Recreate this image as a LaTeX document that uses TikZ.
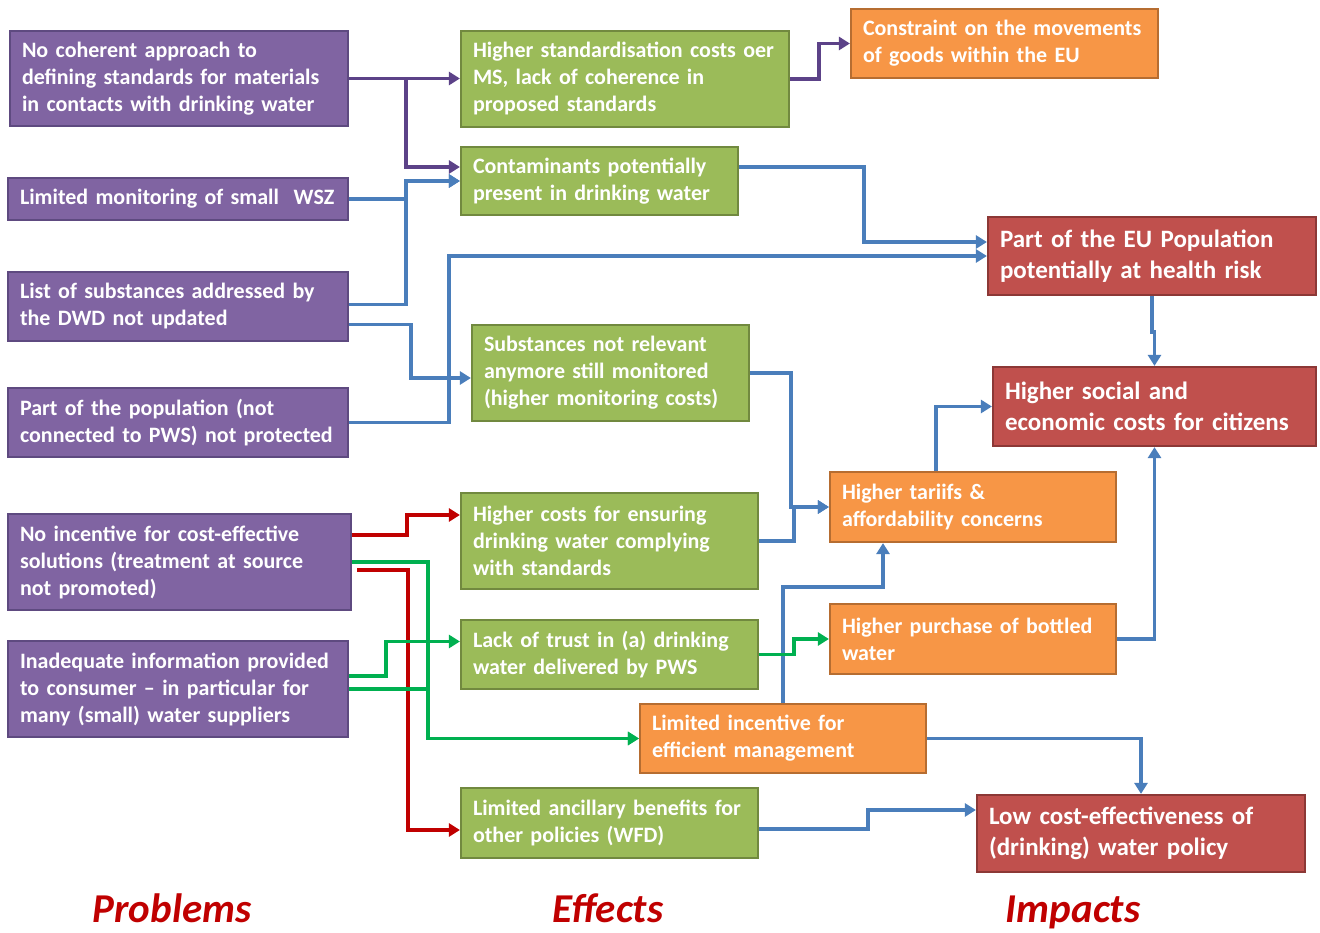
\documentclass[tikz,border=0pt]{standalone}
\usepackage{fontspec}
\setmainfont{Carlito}
\usetikzlibrary{arrows.meta}
\begin{document}
\begin{tikzpicture}[x=1pt,y=1pt,
  box/.style={rectangle,line width=2.2pt,text=white,align=left,inner xsep=12pt,inner ysep=0pt,
    font=\bfseries\fontsize{22}{27}\selectfont},
  prob/.style={box,fill=probFill,draw=probLine},
  eff/.style={box,fill=effFill,draw=effLine},
  mid/.style={box,fill=midFill,draw=midLine},
  imp/.style={box,fill=impFill,draw=impLine,font=\bfseries\fontsize{25}{31}\selectfont},
  link/.style={line width=3.4pt,-{Triangle[length=11pt,width=13pt]}},
  title/.style={text=titleColor,anchor=base,font=\bfseries\itshape\fontsize{41}{48}\selectfont}]
\definecolor{probFill}{RGB}{128,100,162}
\definecolor{probLine}{RGB}{94,74,128}
\definecolor{effFill}{RGB}{155,187,89}
\definecolor{effLine}{RGB}{113,137,63}
\definecolor{midFill}{RGB}{247,150,70}
\definecolor{midLine}{RGB}{182,109,49}
\definecolor{impFill}{RGB}{192,80,77}
\definecolor{impLine}{RGB}{140,56,54}
\definecolor{blueLine}{RGB}{74,126,187}
\definecolor{purpleLine}{RGB}{92,66,136}
\definecolor{redLine}{RGB}{192,0,0}
\definecolor{greenLine}{RGB}{0,176,80}
\definecolor{titleColor}{RGB}{192,0,0}
\path[use as bounding box,fill=white] (0,0) rectangle (1320,932);

\node[prob,text width=314pt,minimum height=95pt] (P1) at (179,853.5) {No coherent approach to\\defining standards for materials\\in contacts with drinking water};
\node[prob,text width=316pt,minimum height=42pt] (P2) at (178,733) {Limited monitoring of small\ \ WSZ};
\node[prob,text width=316pt,minimum height=69pt] (P3) at (178,625.5) {List of substances addressed by\\the DWD not updated};
\node[prob,text width=316pt,minimum height=69pt] (P4) at (178,509.5) {Part of the population (not\\connected to PWS) not protected};
\node[prob,text width=319pt,minimum height=96pt] (P5) at (179.5,370) {No incentive for cost-effective\\solutions (treatment at source\\not promoted)};
\node[prob,text width=316pt,minimum height=96pt] (P6) at (178,243) {Inadequate information provided\\to consumer – in particular for\\many (small) water suppliers};

\node[eff,text width=304pt,minimum height=96pt] (E1) at (625,853) {Higher standardisation costs oer\\MS, lack of coherence in\\proposed standards};
\node[eff,text width=253pt,minimum height=68pt] (E2) at (599.5,751) {Contaminants potentially\\present in drinking water};
\node[eff,text width=253pt,minimum height=96pt] (E3) at (610.5,559) {Substances not relevant\\anymore still monitored\\(higher monitoring costs)};
\node[eff,text width=273pt,minimum height=96pt] (E4) at (609.5,391) {Higher costs for ensuring\\drinking water complying\\with standards};
\node[eff,text width=273pt,minimum height=69pt] (E5) at (609.5,277.5) {Lack of trust in (a) drinking\\water delivered by PWS};
\node[eff,text width=273pt,minimum height=70pt] (E6) at (609.5,109) {Limited ancillary benefits for\\other policies (WFD)};

\node[mid,text width=283pt,minimum height=69pt] (O1) at (1004.5,888.5) {Constraint on the movements\\of goods within the EU};
\node[mid,text width=262pt,minimum height=70pt] (O2) at (973,425) {Higher tariifs \&\\affordability concerns};
\node[mid,text width=262pt,minimum height=70pt] (O3) at (973,293) {Higher purchase of bottled\\water};
\node[mid,text width=262pt,minimum height=69pt] (O4) at (783,193.5) {Limited incentive for\\efficient management};

\node[imp,text width=304pt,minimum height=78pt] (R1) at (1152,676) {Part of the EU Population\\potentially at health risk};
\node[imp,text width=299pt,minimum height=79pt] (R2) at (1154.5,525.5) {Higher social and\\economic costs for citizens};
\node[imp,text width=304pt,minimum height=77pt] (R3) at (1141,98.5) {Low cost-effectiveness of\\(drinking)\ water policy};

\node[title] (tP) at (172,10) {Problems};
\node[title] (tE) at (608,10) {Effects};
\node[title] (tI) at (1073,10) {Impacts};

\draw[link,purpleLine] (P1.east) -- (E1.west |- P1.east);
\draw[link,purpleLine] (P1.east) -- ++(57,0) |- ([yshift=14]E2.west);
\draw[link,purpleLine] (E1.east) -- ++(29,0) |- (O1.west);

\draw[link,blueLine] (P2.east) -- ++(57,0) |- (E2.west);
\draw[link,blueLine] ([yshift=2]P3.east) -- ++(57,0) |- (E2.west);
\draw[link,blueLine] ([yshift=-18]P3.east) -- ++(62,0) |- ([yshift=-5]E3.west);
\draw[link,blueLine] (P4.east) -- ++(100,0) |- (R1.west);
\draw[link,blueLine] ([yshift=14]E2.east) -- ++(125,0) |- ([yshift=14]R1.west);
\draw[link,blueLine] (E3.east) -- ++(41,0) |- (O2.west);
\draw[link,blueLine] (E4.east) -- ++(35,0) |- (O2.west);
\draw[link,blueLine] ([xshift=-37]O2.north) |- (R2.west);
\draw[link,blueLine] (R1.south) -- ++(0,-36) -| (R2.north);
\draw[link,blueLine] (O3.east) -| (R2.south);
\draw[link,blueLine] (O4.north) -- ++(0,116) -| ([xshift=-90]O2.south);
\draw[link,blueLine] (O4.east) -| (R3.north);
\draw[link,blueLine] ([yshift=-6]E6.east) -- ++(109,0) |- ([yshift=23.5]R3.west);

\draw[link,redLine] ([yshift=27]P5.east) -- ++(55,0) |- ([yshift=26]E4.west);
\draw[link,redLine] ([xshift=5,yshift=-8]P5.east) -- ++(51,0) |- ([yshift=-7]E6.west);
\draw[link,greenLine] (P5.east) -- ++(76,0) |- (O4.west);
\draw[link,greenLine] ([yshift=13]P6.east) -- ++(37,0) |- ([yshift=13]E5.west);
\draw[link,greenLine] (P6.east) -- ++(79,0) |- (O4.west);
\draw[link,greenLine] (E5.east) -- ++(35,0) |- (O3.west);
\end{tikzpicture}
\end{document}
